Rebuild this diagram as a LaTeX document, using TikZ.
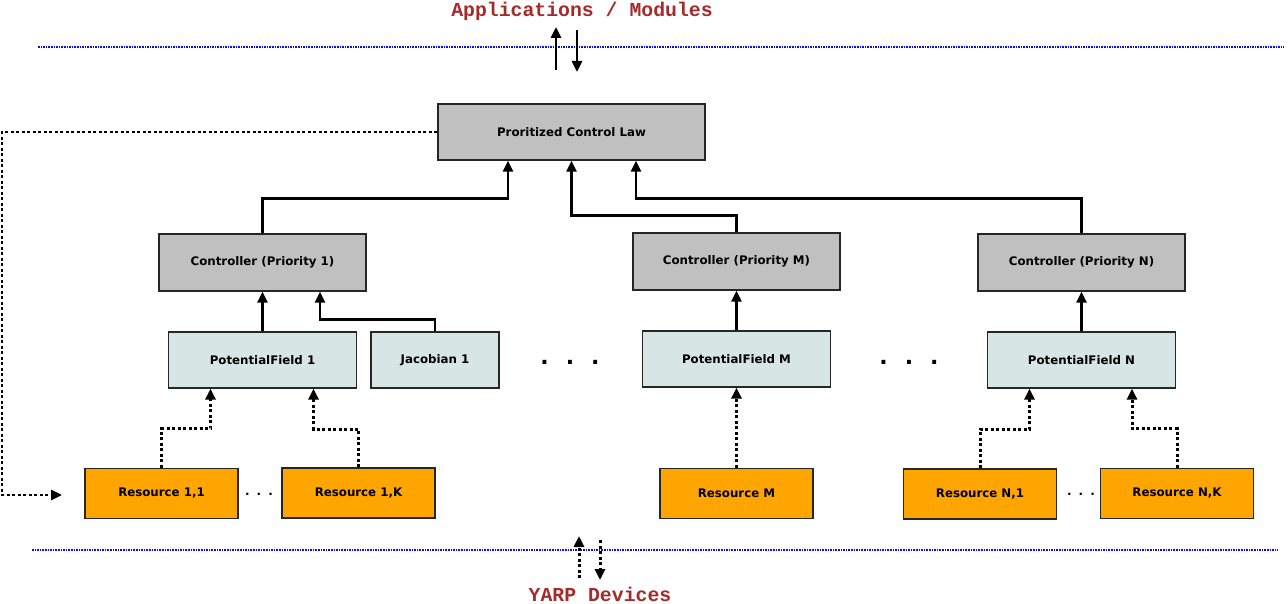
\documentclass[tikz,border=0pt]{standalone}
\usepackage{fontspec}
\setsansfont{DejaVu Sans}
\newfontfamily\titlefont{Liberation Mono}
\usetikzlibrary{arrows.meta, positioning}

\definecolor{lawgray}{HTML}{C0C0C0}
\definecolor{fieldblue}{HTML}{D8E5E5}
\definecolor{resorange}{HTML}{FFA500}
\definecolor{titlered}{HTML}{A52A2A}
\definecolor{layerblue}{HTML}{0A0AF5}

\tikzset{
  block/.style = {draw=black!85, line width=1.2pt, font=\sffamily\bfseries\fontsize{11.8}{14}\selectfont},
  law/.style   = {block, fill=lawgray, minimum width=267pt, minimum height=56pt},
  ctrl/.style  = {block, fill=lawgray, minimum width=207pt, minimum height=57pt},
  field/.style = {block, fill=fieldblue, minimum width=188pt, minimum height=56pt},
  jac/.style   = {block, fill=fieldblue, minimum width=128pt, minimum height=56pt},
  res/.style   = {block, fill=resorange, minimum width=153pt, minimum height=50pt},
  wire/.style  = {line width=2.6pt, -{Triangle[length=11pt,width=10pt]}},
  feed/.style  = {line width=3pt, dash pattern=on 3pt off 2.5pt, -{Triangle[length=11pt,width=10pt]}},
  layer/.style = {layerblue, line width=2.6pt, dash pattern=on 1.6pt off 1pt},
  banner/.style = {font=\titlefont\bfseries\fontsize{19.8}{22}\selectfont, text=titlered, inner sep=0pt},
  bigdots/.style = {font=\sffamily\bfseries\fontsize{22}{24}\selectfont, inner sep=0pt},
  smalldots/.style = {font=\sffamily\bfseries\fontsize{12}{14}\selectfont, inner sep=0pt}
}

\begin{document}
\begin{tikzpicture}[x=1pt, y=-1pt, node distance = 100pt, on grid]
  \useasboundingbox (0,0) rectangle (1288,604);

  % layer borders
  \draw[layer] (38,47) -- (1284,47);
  \draw[layer] (32,550) -- (1278,550);
  \node[banner] (apps) at (582,11) {Applications / Modules};
  \node[banner] (yarp) at (600,594) {YARP Devices};

  % blocks
  \node[law] (law) at (571.5,132) {Proritized Control Law};
  \node[ctrl] (c1) [below left=130.5pt and 309pt of law] {Controller (Priority 1)};
  \node[ctrl] (cM) [below right=129.5pt and 165pt of law] {Controller (Priority M)};
  \node[ctrl] (cN) [below right=130.5pt and 510pt of law] {Controller (Priority N)};
  \node[field] (pf1) [below=97.5pt of c1] {PotentialField 1};
  \node[jac] (jac1) [right=172.5pt of pf1] {Jacobian 1};
  \node[field] (pfM) [below=97.5pt of cM] {PotentialField M};
  \node[field] (pfN) [below=97.5pt of cN] {PotentialField N};
  \node[res] (r11) [below left=133.5pt and 101pt of pf1] {Resource 1,1};
  \node[res] (r1K) [below right=133pt and 96pt of pf1] {Resource 1,K};
  \node[res] (rM) [below=134.5pt of pfM] {Resource M};
  \node[res] (rN1) [below left=134pt and 101.5pt of pfN] {Resource N,1};
  \node[res] (rNK) [below right=133.5pt and 95.5pt of pfN] {Resource N,K};

  % ellipses
  \node[bigdots] (gap1) at (570,362) {.\hspace{17pt}.\hspace{17pt}.};
  \node[bigdots] (gap2) at (909,362) {.\hspace{17pt}.\hspace{17pt}.};
  \node[smalldots] (gap3) at (259,494) {.\hspace{7pt}.\hspace{7pt}.};
  \node[smalldots] (gap4) at (1081,494) {.\hspace{7pt}.\hspace{7pt}.};

  % controllers to control law
  \draw[wire] (c1.north) -- ++(0,-35) -| ([xshift=-63.5pt]law.south);
  \draw[wire] (cM.north) -- ++(0,-17) -| (law.south);
  \draw[wire] (cN.north) -- ++(0,-35) -| ([xshift=64.5pt]law.south);

  % fields to controllers
  \draw[wire] (pf1.north) -- (c1.south);
  \draw[wire] (jac1.north) -- ++(0,-12) -| ([xshift=57.5pt]c1.south);
  \draw[wire] (pfM.north) -- (cM.south);
  \draw[wire] (pfN.north) -- (cN.south);

  % resources to fields
  \draw[feed] (r11.north) -- ++(0,-39) -| ([xshift=-52pt]pf1.south);
  \draw[feed] (r1K.north) -- ++(0,-38) -| ([xshift=51pt]pf1.south);
  \draw[feed] (rM.north) -- (pfM.south);
  \draw[feed] (rN1.north) -- ++(0,-39) -| ([xshift=-52pt]pfN.south);
  \draw[feed] (rNK.north) -- ++(0,-39) -| ([xshift=50.5pt]pfN.south);

  % feedback to resources
  \coordinate (fbbot) at (2,495);
  \coordinate (fbend) at (62,495);
  \draw[feed, line width=2.6pt] (law.west) -| (fbbot) -- (fbend);

  % links across layers
  \coordinate (appsup0) at (556,70);
  \coordinate (appsup1) at (556,27);
  \coordinate (appsdn0) at (577,30);
  \coordinate (appsdn1) at (577,72);
  \draw[wire] (appsup0) -- (appsup1);
  \draw[wire] (appsdn0) -- (appsdn1);
  \coordinate (yarpup0) at (579,578);
  \coordinate (yarpup1) at (579,536);
  \coordinate (yarpdn0) at (600,540);
  \coordinate (yarpdn1) at (600,580);
  \draw[feed] (yarpup0) -- (yarpup1);
  \draw[feed] (yarpdn0) -- (yarpdn1);
\end{tikzpicture}
\end{document}
